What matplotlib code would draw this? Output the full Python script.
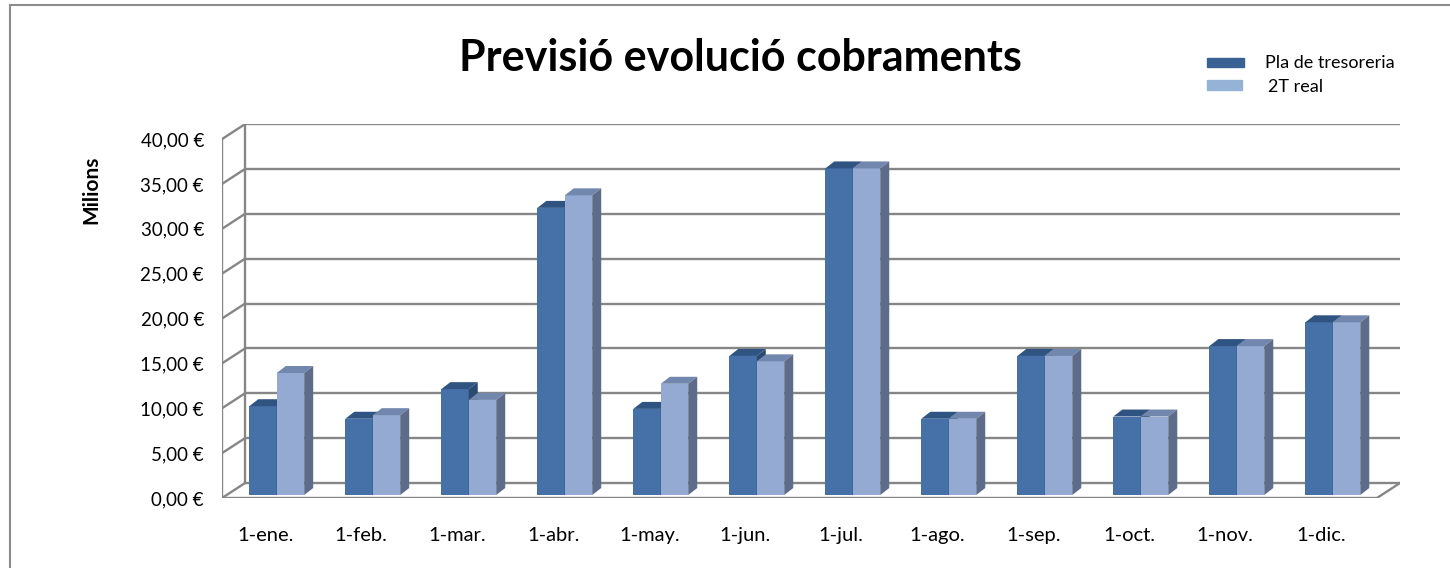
import numpy as np
import matplotlib
matplotlib.use("Agg")
import matplotlib.pyplot as plt
from matplotlib.patches import Polygon, Rectangle
from matplotlib.lines import Line2D

plt.rcParams['font.family'] = ['Lato', 'DejaVu Sans']

# Dades (milions d'euros)
mesos = ['1-ene.', '1-feb.', '1-mar.', '1-abr.', '1-may.', '1-jun.',
         '1-jul.', '1-ago.', '1-sep.', '1-oct.', '1-nov.', '1-dic.']
pla_tresoreria = [9.9, 8.5, 11.8, 32.0, 9.6, 15.5, 36.4, 8.5, 15.5, 8.75, 16.6, 19.25]
real_2t = [13.6, 8.9, 10.6, 33.4, 12.4, 14.9, 36.4, 8.5, 15.5, 8.75, 16.6, 19.25]
yticks = np.arange(0, 45, 5)
ytick_labels = ['%s €' % ('%.2f' % v).replace('.', ',') for v in yticks]

# Colors
c_dark = ('#4671A8', '#2F5482', '#2B4A72')    # front, top, side
c_light = ('#95AAD2', '#7287AD', '#5E6C89')
c_grid = '#868686'

W, H = 1450, 568
fig = plt.figure(figsize=(W / 100, H / 100), dpi=100)
ax = fig.add_axes([222 / W, (H - 498) / H, (1400 - 222) / W, (498 - 124) / H])
xmin, xmax = -0.57, 11.70
ax.set_xlim(xmin, xmax)
ax.set_ylim(0, 41.68)

# profunditat de la paret (en unitats de dades)
wx, wy = 0.24, 1.67
# amplada i profunditat de les barres
bw = 0.286
bx, by = 0.094, 0.78
base = 0.33

# paret del fons i línies de la graella
for v in yticks:
    ax.plot([xmin + wx, xmax], [v + wy, v + wy], color=c_grid, lw=1.7,
            solid_capstyle='butt', zorder=1)
    ax.plot([xmin, xmin + wx], [v, v + wy], color=c_grid, lw=1.7, zorder=1)
ax.plot([xmin, xmin], [0, 40], color=c_grid, lw=1.7, zorder=1)
ax.plot([xmin + wx, xmin + wx], [wy, 40 + wy], color=c_grid, lw=1.7, zorder=1)
# terra
xfr = xmax - wx
ax.plot([xmin, xfr], [0, 0], color=c_grid, lw=1.7, zorder=1)
ax.plot([xfr, xmax], [0, wy], color=c_grid, lw=1.7, zorder=1)


def bar3d(x0, h, cols):
    top = base + h
    front = [(x0, base), (x0 + bw, base), (x0 + bw, top), (x0, top)]
    tface = [(x0, top), (x0 + bw, top), (x0 + bw + bx, top + by), (x0 + bx, top + by)]
    side = [(x0 + bw, base), (x0 + bw + bx, base + by), (x0 + bw + bx, top + by), (x0 + bw, top)]
    for pts, c in zip((front, tface, side), cols):
        ax.add_patch(Polygon(pts, closed=True, facecolor=c, edgecolor='none', zorder=3))


for i in range(len(mesos)):
    bar3d(i - bw, pla_tresoreria[i], c_dark)
    bar3d(i, real_2t[i], c_light)

ax.set_yticks(yticks)
ax.set_yticklabels(ytick_labels, fontsize=13.5)
ax.set_xticks(np.arange(len(mesos)) - 0.12)
ax.set_xticklabels(mesos, fontsize=14.5)
ax.tick_params(axis='y', length=0, pad=13)
ax.tick_params(axis='x', length=0, pad=21)
for s in ax.spines.values():
    s.set_visible(False)
ax.patch.set_alpha(0)

ax.set_ylabel('Milions', fontsize=15, fontweight='bold')
ax.yaxis.set_label_coords(-0.102, 0.825)

fig.text(740 / W, 1 - 58 / H, 'Previsió evolució cobraments', fontsize=31,
         fontweight='bold', ha='center', va='center')

# llegenda
fig.add_artist(Rectangle((1207 / W, 1 - 67 / H), 37 / W, 9 / H,
                         transform=fig.transFigure, color='#3A6194'))
fig.add_artist(Rectangle((1207 / W, 1 - 90 / H), 35 / W, 10 / H,
                         transform=fig.transFigure, color='#95B3D7'))
fig.text(1265 / W, 1 - 63 / H, 'Pla de tresoreria', fontsize=13, va='center')
fig.text(1268 / W, 1 - 87 / H, '2T real', fontsize=13, va='center')

# vora del gràfic
fig.add_artist(Line2D([10 / W, 10 / W], [0, 1 - 5 / H], transform=fig.transFigure,
                      color='#8C8C8C', lw=1.5))
fig.add_artist(Line2D([10 / W, 1], [1 - 5 / H, 1 - 5 / H], transform=fig.transFigure,
                      color='#8C8C8C', lw=1.5))

fig.savefig('out.png', dpi=100)
